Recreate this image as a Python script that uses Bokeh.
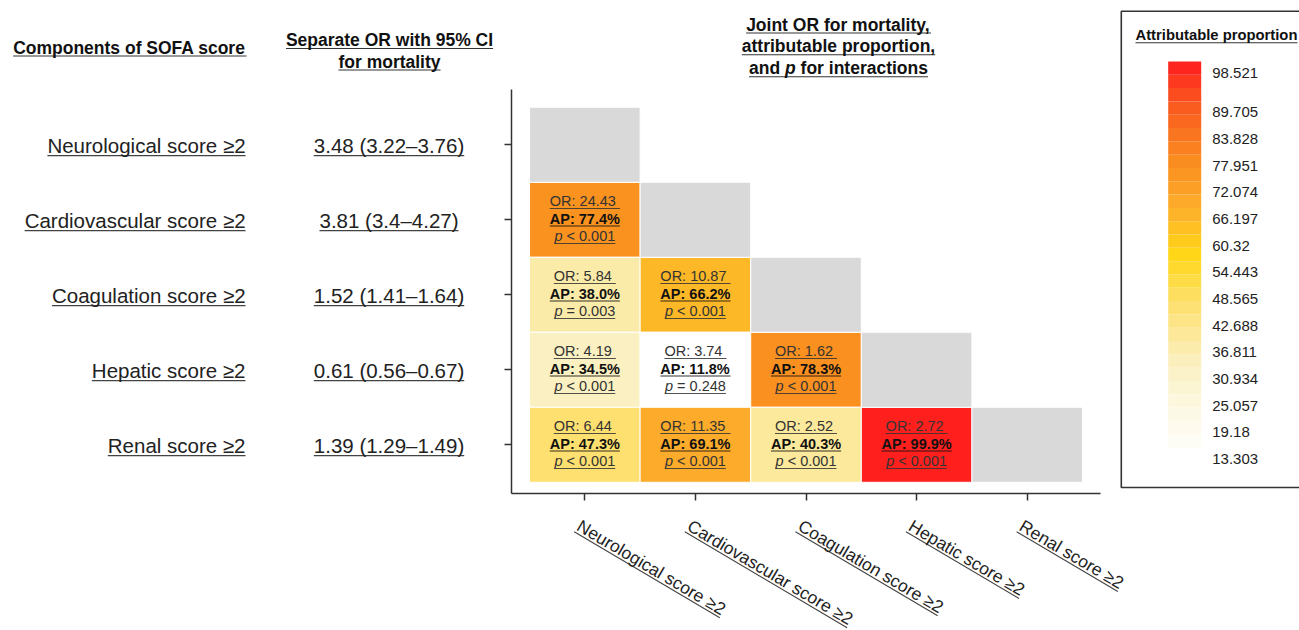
import math
import numpy as np
from bokeh.plotting import figure
from bokeh.models import ColumnDataSource, Range1d, FixedTicker, LinearColorMapper
from bokeh.transform import transform
from bokeh.core.properties import value
from bokeh.embed import file_html
from bokeh.resources import INLINE

# ---------------------------------------------------------------- data
components = ["Neurological score ≥2", "Cardiovascular score ≥2",
              "Coagulation score ≥2", "Hepatic score ≥2", "Renal score ≥2"]
separate_or = [3.48, 3.81, 1.52, 0.61, 1.39]
separate_lo = [3.22, 3.4, 1.41, 0.56, 1.29]
separate_hi = [3.76, 4.27, 1.64, 0.67, 1.49]

# lower triangle: row component index, column component index
pair_row = [1, 2, 2, 3, 3, 3, 4, 4, 4, 4]
pair_col = [0, 0, 1, 0, 1, 2, 0, 1, 2, 3]
joint_or = [24.43, 5.84, 10.87, 4.19, 3.74, 1.62, 6.44, 11.35, 2.52, 2.72]
attrib_prop = [77.4, 38.0, 66.2, 34.5, 11.8, 78.3, 47.3, 69.1, 40.3, 99.9]
p_sign = ["<", "=", "<", "<", "=", "<", "<", "<", "<", "<"]
p_value = ["0.001", "0.003", "0.001", "0.001", "0.248",
           "0.001", "0.001", "0.001", "0.001", "0.001"]

legend_ticks = [98.521, 89.705, 83.828, 77.951, 72.074, 66.197, 60.32, 54.443,
                48.565, 42.688, 36.811, 30.934, 25.057, 19.18, 13.303]

# ---------------------------------------------------------------- styling
FONT = "Liberation Sans"
GRAY_DIAG = "#D9D9D9"
TXT = "#222222"
TXT_CELL = "#333333"
TXT_BOLD = "#111111"

# white -> pale yellow -> gold -> orange -> red colour ramp
RAMP = [(13.3, "#FFFFFF"), (25.0, "#FDF8E2"), (34.5, "#FAF0C0"), (38.5, "#FBEBA6"),
        (47.3, "#FEE070"), (58.5, "#FFD716"), (66.2, "#FDB827"), (69.1, "#FDAB2A"),
        (77.8, "#FA9120"), (89.7, "#FA6020"), (95.0, "#FC4420"), (100.9, "#FF1A1E")]
MAP_LOW, MAP_HIGH = 13.303, 100.88


def _rgb(h):
    return tuple(int(h[i:i + 2], 16) for i in (1, 3, 5))


def ramp_color(v):
    if v <= RAMP[0][0]:
        return RAMP[0][1]
    for (v0, c0), (v1, c1) in zip(RAMP[:-1], RAMP[1:]):
        if v <= v1:
            f = (v - v0) / (v1 - v0)
            a, b = _rgb(c0), _rgb(c1)
            return "#%02X%02X%02X" % tuple(round(a[i] + f * (b[i] - a[i])) for i in range(3))
    return RAMP[-1][1]


N_PAL = 256
PALETTE = [ramp_color(MAP_LOW + (k + 0.5) * (MAP_HIGH - MAP_LOW) / N_PAL) for k in range(N_PAL)]
mapper = LinearColorMapper(palette=PALETTE, low=MAP_LOW, high=MAP_HIGH, nan_color=GRAY_DIAG)

# Arial / Helvetica advance widths (1/1000 em), used to size the underlines
UP = "ABCDEFGHIJKLMNOPQRSTUVWXYZ"
LO = "abcdefghijklmnopqrstuvwxyz"
_REG = dict(zip(UP, [667, 667, 722, 722, 667, 611, 778, 722, 278, 500, 667, 556, 833,
                     722, 778, 667, 778, 722, 667, 611, 722, 667, 944, 667, 667, 611]))
_REG.update(zip(LO, [556, 556, 500, 556, 556, 278, 556, 556, 222, 222, 500, 222, 833,
                     556, 556, 556, 556, 333, 500, 278, 556, 500, 722, 500, 500, 500]))
_REG.update({c: 556 for c in "0123456789"})
_REG.update({" ": 278, ".": 278, ",": 278, ":": 278, "(": 333, ")": 333, "%": 889,
             "<": 584, "=": 584, "–": 556, "≥": 549, "-": 333})
_BOLD = dict(zip(UP, [722, 722, 722, 722, 667, 611, 778, 722, 278, 556, 722, 611, 833,
                      722, 778, 667, 778, 722, 667, 611, 722, 667, 944, 667, 667, 611]))
_BOLD.update(zip(LO, [556, 611, 556, 611, 556, 333, 611, 611, 278, 278, 556, 278, 889,
                      611, 611, 611, 611, 389, 556, 333, 611, 556, 778, 556, 556, 500]))
_BOLD.update({c: 556 for c in "0123456789"})
_BOLD.update({" ": 278, ".": 278, ",": 278, ":": 333, "(": 333, ")": 333, "%": 889,
              "<": 584, "=": 584, "–": 556, "≥": 549, "-": 333})


def text_width(s, size, style="normal"):
    table = _BOLD if "bold" in style else _REG
    return sum(table.get(ch, 556) for ch in s) * size / 1000.0


def ul_gap(size):
    return 0.1 * size + 0.8


BASE_SHIFT = 0.34   # renderer places the alphabetic baseline this many ems low

# ---------------------------------------------------------------- figure geometry
N = len(components)
PAGE_W, PAGE_H = 1299, 630
FRAME_L, FRAME_T, FRAME_W, FRAME_H = 511, 89, 589, 404
PPX, PPY = 110.6, 75.0          # pixels per category step
X_START, Y_END = 0.337, 5.737


def to_main(px, py):
    return X_START + (px - FRAME_L) / PPX, Y_END - (py - FRAME_T) / PPY


def main_px(x, y):
    return FRAME_L + (x - X_START) * PPX, FRAME_T + (Y_END - y) * PPY


p = figure(width=PAGE_W, height=PAGE_H, title=None,
           x_range=Range1d(X_START, X_START + FRAME_W / PPX),
           y_range=Range1d(Y_END - FRAME_H / PPY, Y_END),
           min_border_left=FRAME_L, min_border_right=PAGE_W - FRAME_L - FRAME_W,
           min_border_top=FRAME_T, min_border_bottom=PAGE_H - FRAME_T - FRAME_H,
           output_backend="svg", toolbar_location=None)
p.outline_line_color = None
p.xgrid.visible = False
p.ygrid.visible = False
p.background_fill_color = "white"
p.border_fill_color = "white"
for ax, ticks in ((p.xaxis, [i + 1 for i in range(N)]), (p.yaxis, [N - i for i in range(N)])):
    ax.ticker = FixedTicker(ticks=ticks)
    ax.axis_line_color = "#333333"
    ax.axis_line_width = 1.5
    ax.major_tick_line_color = "#333333"
    ax.major_tick_line_width = 1.5
    ax.major_tick_out = 7
    ax.major_tick_in = 0
    ax.minor_tick_out = 0
    ax.minor_tick_in = 0
    ax.major_label_text_color = None

# heat-map tiles: lower triangle coloured by AP, diagonal grey
tile_x = [c + 1 for c in pair_col] + [i + 1 for i in range(N)]
tile_y = [N - r for r in pair_row] + [N - i for i in range(N)]
tile_ap = list(attrib_prop) + [np.nan] * N
tiles = ColumnDataSource(dict(x=tile_x, y=tile_y, ap=np.array(tile_ap, dtype=float)))
p.rect(x="x", y="y", width=1, height=1, source=tiles,
       fill_color=transform("ap", mapper), line_color="white", line_width=1)

# ---------------------------------------------------------------- text helpers
texts, rules = [], []


def put(left, base, s, size, style, color, rule=True, width=None):
    x, y = to_main(left, base - BASE_SHIFT * size)
    texts.append((x, y, s, size, style, color, 0.0))
    if rule:
        w = text_width(s, size, style) if width is None else width
        g = base + ul_gap(size)
        x0, y0 = to_main(left, g)
        x1, y1 = to_main(left + w, g)
        rules.append((x0, y0, x1, y1, color))


def put_aligned(anchor, align, base, s, size, style, color):
    w = text_width(s, size, style)
    left = {"left": anchor, "right": anchor - w, "center": anchor - w / 2}[align]
    put(left, base, s, size, style, color)


# header texts
HS = 17.5
put_aligned(246, "right", 53, "Components of SOFA score", HS, "bold", TXT_BOLD)
put_aligned(389, "center", 45.5, "Separate OR with 95% CI", HS, "bold", TXT_BOLD)
put_aligned(389, "center", 67, "for mortality", HS, "bold", TXT_BOLD)
put_aligned(838, "center", 30, "Joint OR for mortality,", HS, "bold", TXT_BOLD)
put_aligned(838, "center", 51.7, "attributable proportion,", HS, "bold", TXT_BOLD)
w_and = text_width("and ", HS, "bold")
w_p = text_width("p ", HS, "bold")
w_rest = text_width("for interactions", HS, "bold")
left3 = 838 - (w_and + w_p + w_rest) / 2
put(left3, 73.7, "and", HS, "bold", TXT_BOLD, width=w_and + w_p + w_rest)
put(left3 + w_and, 73.7, "p", HS, "bold italic", TXT_BOLD, rule=False)
put(left3 + w_and + w_p, 73.7, "for interactions", HS, "bold", TXT_BOLD, rule=False)

# row labels and separate ORs
LS = 20.5
for i, name in enumerate(components):
    _, cy_px = main_px(1, N - i)
    base = cy_px + 8
    put_aligned(245, "right", base, name, LS, "normal", TXT)
    ci = f"{separate_or[i]:g} ({separate_lo[i]:g}–{separate_hi[i]:g})"
    put_aligned(388.5, "center", base, ci, LS, "normal", TXT)

# cell annotations
CS = 14.5
for k in range(len(pair_row)):
    cx_px, cy_px = main_px(pair_col[k] + 1, N - pair_row[k])
    l1 = f"OR: {joint_or[k]:.2f}"
    w1 = text_width(l1 + " ", CS)
    put(cx_px - w1 / 2, cy_px - 13.5, l1, CS, "normal", TXT_CELL, width=w1)
    l2 = f"AP: {attrib_prop[k]:.1f}%"
    w2 = text_width(l2, CS, "bold")
    put(cx_px - w2 / 2, cy_px + 4.0, l2, CS, "bold", TXT_BOLD)
    rest = f"{p_sign[k]} {p_value[k]}"
    wp = text_width("p ", CS)
    w3 = wp + text_width(rest, CS)
    left = cx_px - w3 / 2
    put(left, cy_px + 21.5, "p", CS, "italic", TXT_CELL, width=w3)
    put(left + wp, cy_px + 21.5, rest, CS, "normal", TXT_CELL, rule=False)

# slanted column labels under the x axis
XS = 17.5
ANG = math.radians(30.6)
for i, name in enumerate(components):
    tick_px, _ = main_px(i + 1, 1)
    bx, by = tick_px - 9.3, 529.0
    sh = BASE_SHIFT * XS
    x, y = to_main(bx + sh * math.sin(ANG), by - sh * math.cos(ANG))
    texts.append((x, y, name, XS, "normal", TXT, -ANG))
    g = ul_gap(XS)
    sx, sy = bx - g * math.sin(ANG), by + g * math.cos(ANG)
    w = text_width(name, XS)
    x0, y0 = to_main(sx, sy)
    x1, y1 = to_main(sx + w * math.cos(ANG), sy + w * math.sin(ANG))
    rules.append((x0, y0, x1, y1, TXT))

# ---------------------------------------------------------------- colour legend (right margin)
LEG_L, LEG_T, LEG_B = 1120, 10, 487
PPV = 4.537                       # pixels per AP unit on the legend bar
V_REF, V_REF_PX = 98.521, 71.7


def leg_py(v):
    return V_REF_PX + (V_REF - v) * PPV


def leg_v(py):
    return V_REF - (py - V_REF_PX) / PPV


BAR_L, BAR_R, BAR_T, BAR_B = 1167.7, 1200.7, 61, 447
n_steps = 29
edges_px = np.linspace(BAR_B, BAR_T, n_steps + 1)
st_bottom = [to_main(0, e)[1] for e in edges_px[:-1]]
st_top = [to_main(0, e)[1] for e in edges_px[1:]]
st_mid = [leg_v((a + b) / 2) for a, b in zip(edges_px[:-1], edges_px[1:])]
stripes = ColumnDataSource(dict(bottom=st_bottom, top=st_top, mid=st_mid))
p.quad(left=to_main(BAR_L, 0)[0], right=to_main(BAR_R, 0)[0], bottom="bottom", top="top",
       source=stripes, fill_color=transform("mid", mapper), line_color=None, level="overlay")

# legend frame (right edge runs past the page)
bx0, by0 = to_main(LEG_L + 0.8, LEG_T + 0.8)
bx1, by1 = to_main(PAGE_W + 5, LEG_B)
p.quad(left=bx0, right=bx1, top=by0, bottom=by1, fill_color=None,
       line_color="#333333", line_width=1.6, level="overlay")

LGS = 15
for t in legend_ticks:
    base = leg_py(t) + 0.36 * LGS
    put(1211.7, base, f"{t:g}", LGS, "normal", TXT, rule=False)
put(1135, 40, "Attributable proportion", 14.8, "bold", TXT_BOLD)

# ---------------------------------------------------------------- draw texts and underlines
groups = {}
for (x, y, s, size, style, color, ang) in texts:
    groups.setdefault((size, style, color, ang), []).append((x, y, s))
for (size, style, color, ang), items in groups.items():
    src = ColumnDataSource(dict(x=[a[0] for a in items], y=[a[1] for a in items],
                                text=[a[2] for a in items]))
    p.text(x="x", y="y", text="text", source=src, angle=ang,
           text_font=value(FONT), text_font_size=f"{size}px", text_font_style=style,
           text_color=color, text_align="left", text_baseline="alphabetic",
           level="overlay")

rule_src = ColumnDataSource(dict(x0=[r[0] for r in rules], y0=[r[1] for r in rules],
                                 x1=[r[2] for r in rules], y1=[r[3] for r in rules],
                                 c=[r[4] for r in rules]))
p.segment(x0="x0", y0="y0", x1="x1", y1="y1", source=rule_src, line_color="c",
          line_width=1.1, line_alpha=0.85, level="overlay")

with open("out.html", "w") as f:
    f.write(file_html(p, INLINE))
